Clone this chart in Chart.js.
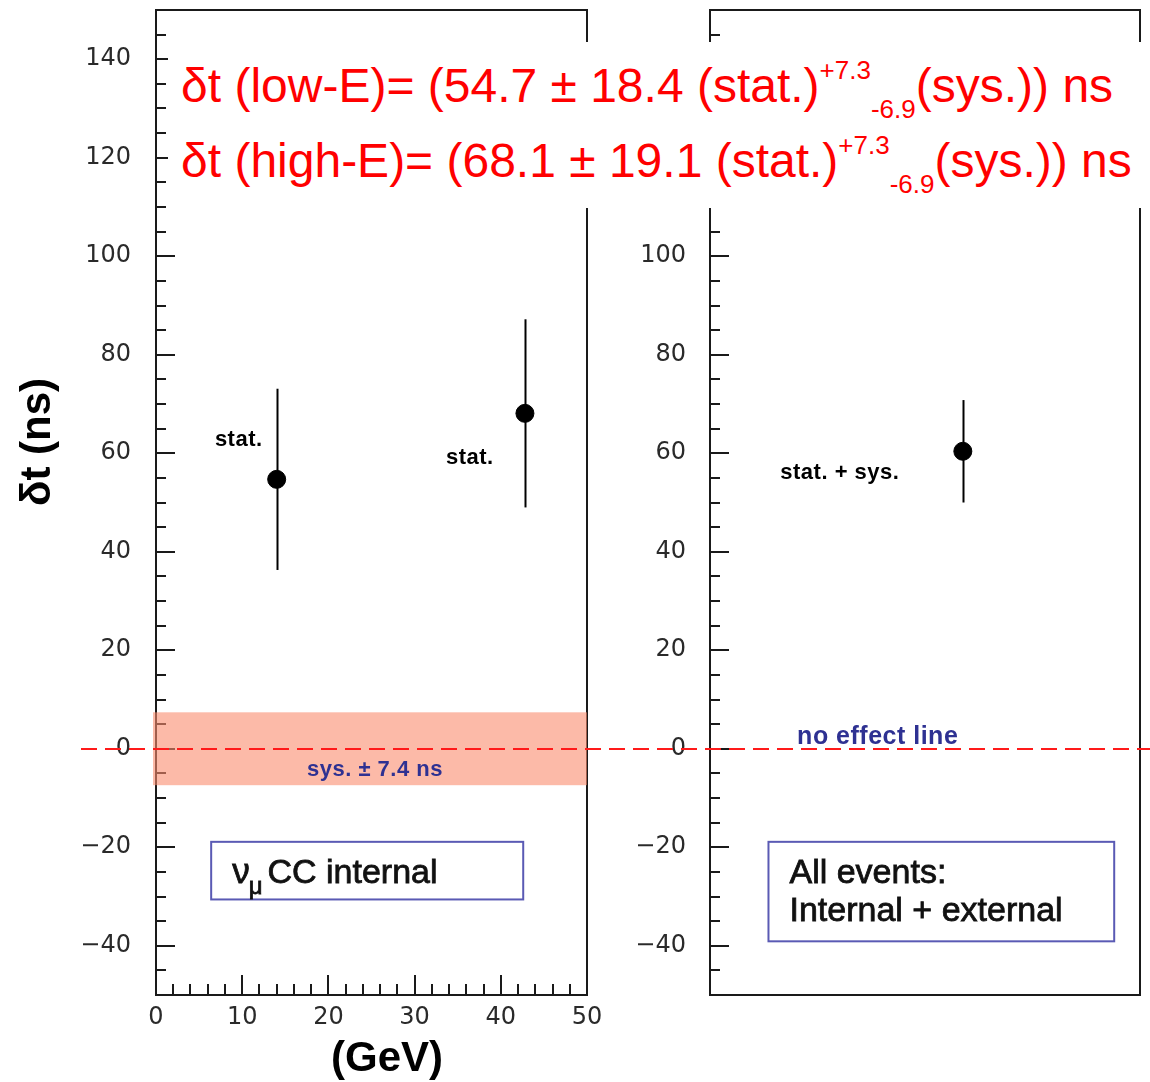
<!DOCTYPE html>
<html>
<head>
<meta charset="utf-8">
<script src="https://cdn.jsdelivr.net/npm/chart.js@4.4.0/dist/chart.umd.min.js"></script>
<style>
  html, body { margin: 0; padding: 0; background: #fff; }
  #wrap { position: relative; width: 1150px; height: 1082px; overflow: hidden; }
  #wrap canvas { position: absolute; top: 0; }
  #leftChart { left: 0; }
  #rightChart { left: 620px; }
  #results {
    position: absolute; left: 168px; top: 42px; width: 982px; height: 166px;
    box-sizing: border-box; padding: 6px 0 0 13px; background: #fff;
    color: #ff0000; font-family: 'Liberation Sans', Arial, sans-serif;
    font-size: 48px; line-height: 75px; white-space: nowrap;
  }
  #results span { font-size: 26px; line-height: 1; position: relative; }
  #results .sup { top: -23px; }
  #results .sub { top: 16px; }
</style>
</head>
<body>
<div id="wrap">
  <canvas id="leftChart" width="620" height="1082"></canvas>
  <canvas id="rightChart" width="530" height="1082"></canvas>
  <div id="results"></div>
</div>
<script>
// time delay per energy sample (left panel)
const sampleLabels = ['low-E', 'high-E'];
const energyBins = [14.0, 42.8];     // GeV
const deltaT = [54.7, 68.1];         // ns
const statErr = [18.4, 19.1];        // ns
const sysUp = 7.3;
const sysDown = 6.9;
const sysError = 7.4;                // half width of the systematic band

// all events, internal + external (right panel)
const allEventsX = [29.4];
const allEventsDeltaT = [60.4];
const allEventsErr = [10.4];

const yTickValues = [-40, -20, 0, 20, 40, 60, 80, 100, 120, 140];
const xTickValues = [0, 10, 20, 30, 40, 50];

const BLUE = '#2e3192';
const FRAME = '#1a1a1a';

// red summary lines on top
document.getElementById('results').innerHTML = sampleLabels.map((s, i) =>
  `<div>δt (${s})= (${deltaT[i].toFixed(1)} ± ${statErr[i].toFixed(1)} (stat.)` +
  `<span class="sup">+${sysUp}</span><span class="sub">-${sysDown}</span>(sys.)) ns</div>`
).join('');

// per-panel drawing settings, looked up by canvas id
const panels = {
  leftChart: {
    canvasLeft: 0,
    xTicks: true,
    band: sysError,
    titles: true,
    notes: [
      { text: 'stat.', x: 9.6, y: 61.4 },
      { text: 'stat.', x: 36.4, y: 57.9 },
      { text: `sys. ± ${sysError} ns`, x: 25.4, y: -5.6, color: BLUE }
    ],
    box: { x0: 6.4, x1: 42.6, y0: -18.9, y1: -30.6,
      lines: [[{ t: 'ν', size: 35 }, { t: 'μ', size: 24, dy: 11, dx: -1 }, { t: 'CC internal', size: 34, dx: 5 }]] }
  },
  rightChart: {
    canvasLeft: 620,
    xTicks: false,
    titles: false,
    notes: [
      { text: 'stat. + sys.', x: 15.1, y: 54.7 },
      { text: 'no effect line', x: 19.5, y: 0.9, color: BLUE, size: 25 }
    ],
    box: { x0: 6.8, x1: 47.0, y0: -18.9, y1: -39.1,
      lines: [[{ t: 'All events:', size: 34 }], [{ t: 'Internal + external', size: 34 }]] }
  }
};

const DASH_START = 81;   // page x where the zero line begins
const DASH = [16, 8];

const panelPlugin = {
  id: 'panel',
  beforeDatasetsDraw(chart) {
    const p = panels[chart.canvas.id];
    const { ctx, chartArea: a, scales: { x, y } } = chart;
    ctx.save();

    // frame
    ctx.strokeStyle = FRAME;
    ctx.lineWidth = 2;
    ctx.strokeRect(a.left, a.top, a.right - a.left, a.bottom - a.top);

    // inward ticks on the left axis: every 5 ns, long ones every 20
    ctx.beginPath();
    for (let v = -45; v <= 145; v += 5) {
      const py = Math.round(y.getPixelForValue(v));
      const len = v % 20 === 0 ? 19 : 10;
      ctx.moveTo(a.left, py);
      ctx.lineTo(a.left + len, py);
    }
    // inward ticks on the energy axis: every 2 GeV, long ones every 10
    if (p.xTicks) {
      for (let v = 2; v < 50; v += 2) {
        const px = Math.round(x.getPixelForValue(v));
        const len = v % 10 === 0 ? 20 : 11;
        ctx.moveTo(px, a.bottom);
        ctx.lineTo(px, a.bottom - len);
      }
    }
    ctx.stroke();

    // systematic band
    if (p.band) {
      const top = y.getPixelForValue(p.band);
      const bot = y.getPixelForValue(-p.band);
      ctx.fillStyle = 'rgba(250, 140, 110, 0.6)';
      ctx.fillRect(a.left - 3, top, a.right - a.left + 3, bot - top);
    }

    // dashed zero line, phase kept continuous across both canvases
    const zeroY = Math.round(y.getPixelForValue(0));
    const x0 = Math.max(0, DASH_START - p.canvasLeft);
    const period = DASH[0] + DASH[1];
    ctx.strokeStyle = '#ff1a1a';
    ctx.lineWidth = 2;
    ctx.setLineDash(DASH);
    ctx.lineDashOffset = (p.canvasLeft + x0 - DASH_START) % period;
    ctx.beginPath();
    ctx.moveTo(x0, zeroY);
    ctx.lineTo(chart.width, zeroY);
    ctx.stroke();
    ctx.setLineDash([]);

    // vertical error bars
    ctx.strokeStyle = '#000';
    ctx.lineWidth = 2;
    chart.data.datasets.forEach(ds => {
      ds.data.forEach((pt, j) => {
        const px = Math.round(x.getPixelForValue(pt.x)) + 0.5;
        ctx.beginPath();
        ctx.moveTo(px, y.getPixelForValue(pt.y + ds.errors[j]));
        ctx.lineTo(px, y.getPixelForValue(pt.y - ds.errors[j]));
        ctx.stroke();
      });
    });
    ctx.restore();
  },

  afterDatasetsDraw(chart) {
    const p = panels[chart.canvas.id];
    const { ctx, chartArea: a, scales: { x, y } } = chart;
    ctx.save();

    // small annotations next to the points
    ctx.textAlign = 'center';
    ctx.textBaseline = 'alphabetic';
    ctx.letterSpacing = '0.5px';
    p.notes.forEach(n => {
      ctx.font = `bold ${n.size || 22}px "Liberation Sans", Arial, sans-serif`;
      ctx.fillStyle = n.color || '#000';
      ctx.fillText(n.text, x.getPixelForValue(n.x), y.getPixelForValue(n.y));
    });
    ctx.letterSpacing = '0px';

    // legend-style box
    const b = p.box;
    const l = x.getPixelForValue(b.x0), r = x.getPixelForValue(b.x1);
    const t = y.getPixelForValue(b.y0), bt = y.getPixelForValue(b.y1);
    ctx.strokeStyle = '#5a5ab4';
    ctx.lineWidth = 2;
    ctx.strokeRect(l, t, r - l, bt - t);
    ctx.fillStyle = '#111';
    ctx.strokeStyle = '#111';
    ctx.lineWidth = 0.8;
    ctx.textAlign = 'left';
    b.lines.forEach((runs, li) => {
      let cx = l + 21;
      const base = t + 41 + li * 38;
      runs.forEach(run => {
        cx += run.dx || 0;
        ctx.font = `${run.size}px "Liberation Sans", Arial, sans-serif`;
        ctx.fillText(run.t, cx, base + (run.dy || 0));
        ctx.strokeText(run.t, cx, base + (run.dy || 0));
        cx += ctx.measureText(run.t).width;
      });
    });

    // axis titles
    if (p.titles) {
      ctx.font = 'bold 42px "Liberation Sans", Arial, sans-serif';
      ctx.fillStyle = '#000';
      ctx.textAlign = 'center';
      ctx.textBaseline = 'middle';
      ctx.fillText('(GeV)', a.left + 231, a.bottom + 64);
      ctx.translate(a.left - 118, a.top + 432);
      ctx.rotate(-Math.PI / 2);
      ctx.fillText('δt (ns)', 0, 0);
    }
    ctx.restore();
  }
};

function yScale(width, labelPad) {
  return {
    type: 'linear',
    min: -50,
    max: 150,
    grid: { display: false, drawTicks: false },
    border: { display: false },
    afterBuildTicks: s => { s.ticks = yTickValues.map(v => ({ value: v })); },
    afterFit: s => { s.width = width; s.paddingTop = 0; s.paddingBottom = 0; },
    ticks: {
      padding: labelPad,
      autoSkip: false,
      color: '#2a2a2a',
      font: { family: 'DejaVu Sans', size: 24 },
      callback: v => (v < 0 ? '\u2212' + Math.abs(v) : String(v))
    }
  };
}

function pointDataset(xs, ys, errs) {
  return {
    data: xs.map((v, i) => ({ x: v, y: ys[i] })),
    errors: errs,
    pointRadius: 9,
    pointBorderWidth: 1,
    pointBackgroundColor: '#000',
    pointBorderColor: '#000',
    showLine: false
  };
}

const common = {
  responsive: false,
  animation: false,
  events: [],
  plugins: { legend: { display: false }, tooltip: { enabled: false } }
};

new Chart(document.getElementById('leftChart'), {
  type: 'scatter',
  data: { datasets: [pointDataset(energyBins, deltaT, statErr)] },
  options: {
    ...common,
    layout: { padding: { top: 10, right: 33, left: 0, bottom: 0 } },
    scales: {
      x: {
        type: 'linear',
        min: 0,
        max: 50,
        grid: { display: false, drawTicks: false },
        border: { display: false },
        afterBuildTicks: s => { s.ticks = xTickValues.map(v => ({ value: v })); },
        afterFit: s => { s.height = 87; s.paddingLeft = 0; s.paddingRight = 0; },
        ticks: {
          padding: 8,
          maxRotation: 0,
          autoSkip: false,
          color: '#2a2a2a',
          font: { family: 'DejaVu Sans', size: 24 }
        }
      },
      y: yScale(156, 25)
    }
  },
  plugins: [panelPlugin]
});

new Chart(document.getElementById('rightChart'), {
  type: 'scatter',
  data: { datasets: [pointDataset(allEventsX, allEventsDeltaT, allEventsErr)] },
  options: {
    ...common,
    layout: { padding: { top: 10, right: 9, left: 0, bottom: 87 } },
    scales: {
      x: { type: 'linear', min: 0, max: 50, display: false },
      y: yScale(90, 24)
    }
  },
  plugins: [panelPlugin]
});
</script>
</body>
</html>
